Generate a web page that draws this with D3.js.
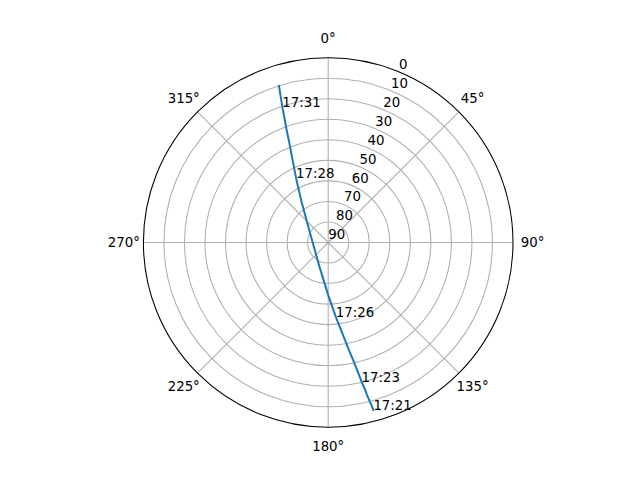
<!DOCTYPE html>
<html>
<head>
<meta charset="utf-8">
<script src="https://cdn.jsdelivr.net/npm/d3@7"></script>
<style>
  html, body { margin: 0; padding: 0; background: #fff; }
  svg { display: block; }
  text { font-family: "DejaVu Sans", sans-serif; font-size: 13.33px; fill: #000; }
</style>
</head>
<body>
<svg id="chart" width="640" height="480"></svg>
<script>
// Satellite pass: time, azimuth (deg, clockwise from north), elevation (deg)
const times = ["17:21:00","17:21:30","17:22:00","17:22:30","17:23:00","17:23:30",
               "17:24:00","17:24:30","17:25:00","17:25:30","17:26:00","17:26:30",
               "17:27:00","17:27:30","17:28:00","17:28:30","17:29:00","17:29:30",
               "17:30:00","17:30:30","17:31:00","17:31:30","17:32:00","17:32:30"];
const azimuth = [164.9,165.1,165.4,165.7,166.0,166.5,167.0,167.8,169.1,171.0,174.2,180.0,
                 200.3,300.5,326.8,333.5,336.8,338.7,339.8,340.7,341.3,341.8,342.2,342.55];
const elevation = [5.5,7.8,10.4,13.3,16.6,20.3,24.6,30.1,36.8,44.7,53.7,64.4,
                   77.6,79.5,66.3,54.9,45.7,37.8,31.1,25.3,20.3,16.6,13.2,10.1];
const thetaTicks = [0,45,90,135,180,225,270,315];
const radialTicks = [0,10,20,30,40,50,60,70,80,90];
const labelEvery = 5;

const svg = d3.select("#chart");
const cx = 328.2, cy = 242.5, R = 184.8;
const g = svg.append("g").attr("transform", `translate(${cx},${cy})`);

const r = d3.scaleLinear().domain([90, 0]).range([0, R]);
const ang = d3.scaleLinear().domain([0, 360]).range([0, 2 * Math.PI]);
const px = (a, e) => r(e) * Math.sin(ang(a));
const py = (a, e) => -r(e) * Math.cos(ang(a));

// circular grid
g.selectAll("circle.grid").data(radialTicks.filter(t => t > 0 && t < 90))
  .join("circle").attr("class", "grid")
  .attr("r", d => r(d)).attr("fill", "none")
  .attr("stroke", "#b0b0b0").attr("stroke-width", 1.07);

// angular grid
g.selectAll("line.grid").data(thetaTicks).join("line").attr("class", "grid")
  .attr("x1", 0).attr("y1", 0)
  .attr("x2", d => px(d, 0)).attr("y2", d => py(d, 0))
  .attr("stroke", "#b0b0b0").attr("stroke-width", 1.07);

// outer spine
g.append("circle").attr("r", r(0)).attr("fill", "none")
  .attr("stroke", "#000").attr("stroke-width", 1.07);

// theta tick labels
const lr = R + 19.5;
g.selectAll("text.theta").data(thetaTicks).join("text").attr("class", "theta")
  .attr("x", d => lr * Math.sin(ang(d)))
  .attr("y", d => -lr * Math.cos(ang(d)))
  .attr("text-anchor", "middle").attr("dominant-baseline", "central")
  .text(d => d + "°");

// radial tick labels at 22.5°
g.selectAll("text.rad").data(radialTicks).join("text").attr("class", "rad")
  .attr("x", d => px(22.5, d))
  .attr("y", d => py(22.5, d) - 3.1)
  .attr("text-anchor", "start")
  .text(d => d);

// track
const data = times.map((t, i) => ({ t, az: azimuth[i], el: elevation[i] }));
const line = d3.lineRadial().angle(d => ang(d.az)).radius(d => r(d.el));
g.append("path").datum(data).attr("d", line)
  .attr("fill", "none").attr("stroke", "#1f77b4").attr("stroke-width", 2)
  .attr("stroke-linecap", "square");

// time annotations
g.selectAll("text.ann").data(data.filter((d, i) => i % labelEvery === 0))
  .join("text").attr("class", "ann")
  .attr("x", d => px(d.az, d.el)).attr("y", d => py(d.az, d.el))
  .attr("text-anchor", "start")
  .text(d => d.t.slice(0, 5));
</script>
</body>
</html>
